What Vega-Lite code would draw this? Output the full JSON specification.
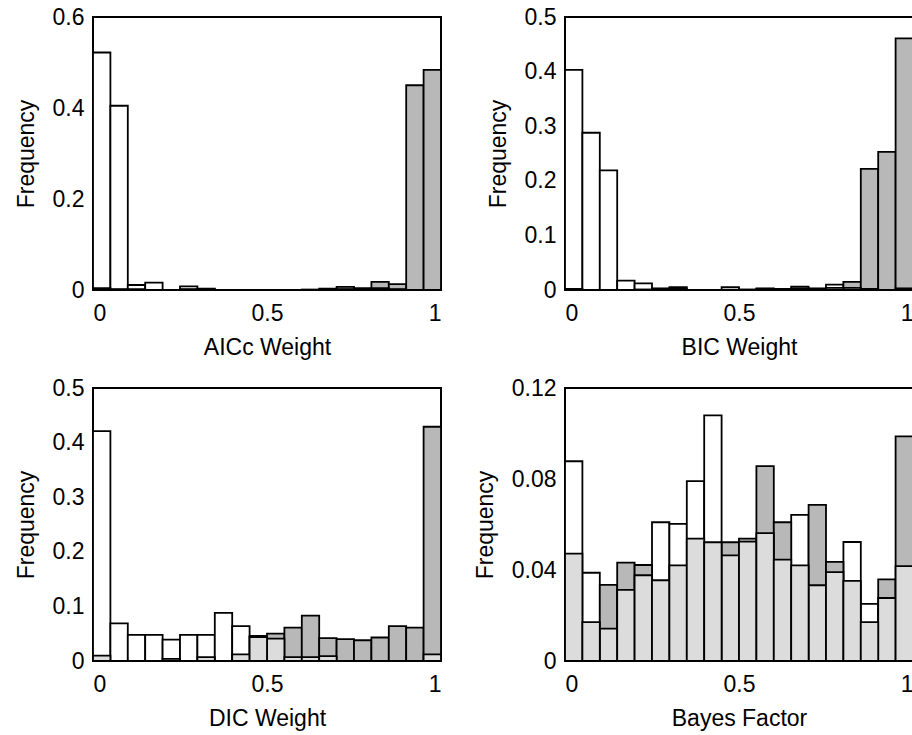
{
"$schema": "https://vega.github.io/schema/vega-lite/v6.json",
"padding": {"left": 14, "top": 5, "right": 0, "bottom": 0},
"config": {
  "font": "Liberation Sans",
  "view": {"stroke": "black", "strokeWidth": 2},
  "axis": {"grid": false, "ticks": false, "tickSize": 0, "domain": false, "labelFont": "Liberation Sans", "labelFontSize": 23, "labelColor": "black", "titleFont": "Liberation Sans", "titleFontSize": 23, "titleFontWeight": "normal", "titleColor": "black", "labelPadding": 9},
  "axisX": {"titlePadding": 11, "labelPadding": 12},
  "axisY": {"titlePadding": 14},
  "bar": {"stroke": "black", "strokeWidth": 1.8}
},
"data": {"values": [
{"p":"AICc","s":"w","lo":0,"hi":0.05,"f":0.522},{"p":"AICc","s":"w","lo":0.05,"hi":0.1,"f":0.405},{"p":"AICc","s":"w","lo":0.1,"hi":0.15,"f":0.011},{"p":"AICc","s":"w","lo":0.15,"hi":0.2,"f":0.016},{"p":"AICc","s":"w","lo":0.2,"hi":0.25,"f":0},{"p":"AICc","s":"w","lo":0.25,"hi":0.3,"f":0.008},{"p":"AICc","s":"w","lo":0.3,"hi":0.35,"f":0.003},{"p":"AICc","s":"w","lo":0.35,"hi":0.4,"f":0},{"p":"AICc","s":"w","lo":0.4,"hi":0.45,"f":0},{"p":"AICc","s":"w","lo":0.45,"hi":0.5,"f":0},{"p":"AICc","s":"w","lo":0.5,"hi":0.55,"f":0},{"p":"AICc","s":"w","lo":0.55,"hi":0.6,"f":0},{"p":"AICc","s":"w","lo":0.6,"hi":0.65,"f":0},{"p":"AICc","s":"w","lo":0.65,"hi":0.7,"f":0.001},{"p":"AICc","s":"w","lo":0.7,"hi":0.75,"f":0.002},{"p":"AICc","s":"w","lo":0.75,"hi":0.8,"f":0.001},{"p":"AICc","s":"w","lo":0.8,"hi":0.85,"f":0.004},{"p":"AICc","s":"w","lo":0.85,"hi":0.9,"f":0.002},{"p":"AICc","s":"w","lo":0.9,"hi":0.95,"f":0},{"p":"AICc","s":"w","lo":0.95,"hi":1,"f":0},
{"p":"AICc","s":"g","lo":0,"hi":0.05,"f":0.004},{"p":"AICc","s":"g","lo":0.05,"hi":0.1,"f":0.002},{"p":"AICc","s":"g","lo":0.1,"hi":0.15,"f":0.002},{"p":"AICc","s":"g","lo":0.15,"hi":0.2,"f":0},{"p":"AICc","s":"g","lo":0.2,"hi":0.25,"f":0},{"p":"AICc","s":"g","lo":0.25,"hi":0.3,"f":0.002},{"p":"AICc","s":"g","lo":0.3,"hi":0.35,"f":0.002},{"p":"AICc","s":"g","lo":0.35,"hi":0.4,"f":0},{"p":"AICc","s":"g","lo":0.4,"hi":0.45,"f":0},{"p":"AICc","s":"g","lo":0.45,"hi":0.5,"f":0},{"p":"AICc","s":"g","lo":0.5,"hi":0.55,"f":0},{"p":"AICc","s":"g","lo":0.55,"hi":0.6,"f":0},{"p":"AICc","s":"g","lo":0.6,"hi":0.65,"f":0.001},{"p":"AICc","s":"g","lo":0.65,"hi":0.7,"f":0.003},{"p":"AICc","s":"g","lo":0.7,"hi":0.75,"f":0.007},{"p":"AICc","s":"g","lo":0.75,"hi":0.8,"f":0.004},{"p":"AICc","s":"g","lo":0.8,"hi":0.85,"f":0.018},{"p":"AICc","s":"g","lo":0.85,"hi":0.9,"f":0.013},{"p":"AICc","s":"g","lo":0.9,"hi":0.95,"f":0.45},{"p":"AICc","s":"g","lo":0.95,"hi":1,"f":0.484},
{"p":"BIC","s":"w","lo":0,"hi":0.05,"f":0.403},{"p":"BIC","s":"w","lo":0.05,"hi":0.1,"f":0.288},{"p":"BIC","s":"w","lo":0.1,"hi":0.15,"f":0.219},{"p":"BIC","s":"w","lo":0.15,"hi":0.2,"f":0.017},{"p":"BIC","s":"w","lo":0.2,"hi":0.25,"f":0.012},{"p":"BIC","s":"w","lo":0.25,"hi":0.3,"f":0.002},{"p":"BIC","s":"w","lo":0.3,"hi":0.35,"f":0.003},{"p":"BIC","s":"w","lo":0.35,"hi":0.4,"f":0},{"p":"BIC","s":"w","lo":0.4,"hi":0.45,"f":0},{"p":"BIC","s":"w","lo":0.45,"hi":0.5,"f":0.005},{"p":"BIC","s":"w","lo":0.5,"hi":0.55,"f":0},{"p":"BIC","s":"w","lo":0.55,"hi":0.6,"f":0.002},{"p":"BIC","s":"w","lo":0.6,"hi":0.65,"f":0.001},{"p":"BIC","s":"w","lo":0.65,"hi":0.7,"f":0.003},{"p":"BIC","s":"w","lo":0.7,"hi":0.75,"f":0.002},{"p":"BIC","s":"w","lo":0.75,"hi":0.8,"f":0.01},{"p":"BIC","s":"w","lo":0.8,"hi":0.85,"f":0.004},{"p":"BIC","s":"w","lo":0.85,"hi":0.9,"f":0.002},{"p":"BIC","s":"w","lo":0.9,"hi":0.95,"f":0},{"p":"BIC","s":"w","lo":0.95,"hi":1,"f":0.003},
{"p":"BIC","s":"g","lo":0,"hi":0.05,"f":0.002},{"p":"BIC","s":"g","lo":0.05,"hi":0.1,"f":0},{"p":"BIC","s":"g","lo":0.1,"hi":0.15,"f":0},{"p":"BIC","s":"g","lo":0.15,"hi":0.2,"f":0},{"p":"BIC","s":"g","lo":0.2,"hi":0.25,"f":0.001},{"p":"BIC","s":"g","lo":0.25,"hi":0.3,"f":0.003},{"p":"BIC","s":"g","lo":0.3,"hi":0.35,"f":0.005},{"p":"BIC","s":"g","lo":0.35,"hi":0.4,"f":0},{"p":"BIC","s":"g","lo":0.4,"hi":0.45,"f":0},{"p":"BIC","s":"g","lo":0.45,"hi":0.5,"f":0},{"p":"BIC","s":"g","lo":0.5,"hi":0.55,"f":0.001},{"p":"BIC","s":"g","lo":0.55,"hi":0.6,"f":0.003},{"p":"BIC","s":"g","lo":0.6,"hi":0.65,"f":0.002},{"p":"BIC","s":"g","lo":0.65,"hi":0.7,"f":0.006},{"p":"BIC","s":"g","lo":0.7,"hi":0.75,"f":0.003},{"p":"BIC","s":"g","lo":0.75,"hi":0.8,"f":0.004},{"p":"BIC","s":"g","lo":0.8,"hi":0.85,"f":0.015},{"p":"BIC","s":"g","lo":0.85,"hi":0.9,"f":0.222},{"p":"BIC","s":"g","lo":0.9,"hi":0.95,"f":0.253},{"p":"BIC","s":"g","lo":0.95,"hi":1,"f":0.461},
{"p":"DIC","s":"w","lo":0,"hi":0.05,"f":0.421},{"p":"DIC","s":"w","lo":0.05,"hi":0.1,"f":0.069},{"p":"DIC","s":"w","lo":0.1,"hi":0.15,"f":0.048},{"p":"DIC","s":"w","lo":0.15,"hi":0.2,"f":0.048},{"p":"DIC","s":"w","lo":0.2,"hi":0.25,"f":0.039},{"p":"DIC","s":"w","lo":0.25,"hi":0.3,"f":0.048},{"p":"DIC","s":"w","lo":0.3,"hi":0.35,"f":0.048},{"p":"DIC","s":"w","lo":0.35,"hi":0.4,"f":0.088},{"p":"DIC","s":"w","lo":0.4,"hi":0.45,"f":0.064},{"p":"DIC","s":"w","lo":0.45,"hi":0.5,"f":0.046},{"p":"DIC","s":"w","lo":0.5,"hi":0.55,"f":0.041},{"p":"DIC","s":"w","lo":0.55,"hi":0.6,"f":0.007},{"p":"DIC","s":"w","lo":0.6,"hi":0.65,"f":0.007},{"p":"DIC","s":"w","lo":0.65,"hi":0.7,"f":0.009},{"p":"DIC","s":"w","lo":0.7,"hi":0.75,"f":0},{"p":"DIC","s":"w","lo":0.75,"hi":0.8,"f":0},{"p":"DIC","s":"w","lo":0.8,"hi":0.85,"f":0},{"p":"DIC","s":"w","lo":0.85,"hi":0.9,"f":0},{"p":"DIC","s":"w","lo":0.9,"hi":0.95,"f":0},{"p":"DIC","s":"w","lo":0.95,"hi":1,"f":0.012},
{"p":"DIC","s":"g","lo":0,"hi":0.05,"f":0.01},{"p":"DIC","s":"g","lo":0.05,"hi":0.1,"f":0},{"p":"DIC","s":"g","lo":0.1,"hi":0.15,"f":0},{"p":"DIC","s":"g","lo":0.15,"hi":0.2,"f":0},{"p":"DIC","s":"g","lo":0.2,"hi":0.25,"f":0.004},{"p":"DIC","s":"g","lo":0.25,"hi":0.3,"f":0},{"p":"DIC","s":"g","lo":0.3,"hi":0.35,"f":0.007},{"p":"DIC","s":"g","lo":0.35,"hi":0.4,"f":0},{"p":"DIC","s":"g","lo":0.4,"hi":0.45,"f":0.012},{"p":"DIC","s":"g","lo":0.45,"hi":0.5,"f":0.044},{"p":"DIC","s":"g","lo":0.5,"hi":0.55,"f":0.05},{"p":"DIC","s":"g","lo":0.55,"hi":0.6,"f":0.061},{"p":"DIC","s":"g","lo":0.6,"hi":0.65,"f":0.083},{"p":"DIC","s":"g","lo":0.65,"hi":0.7,"f":0.042},{"p":"DIC","s":"g","lo":0.7,"hi":0.75,"f":0.04},{"p":"DIC","s":"g","lo":0.75,"hi":0.8,"f":0.038},{"p":"DIC","s":"g","lo":0.8,"hi":0.85,"f":0.043},{"p":"DIC","s":"g","lo":0.85,"hi":0.9,"f":0.064},{"p":"DIC","s":"g","lo":0.9,"hi":0.95,"f":0.061},{"p":"DIC","s":"g","lo":0.95,"hi":1,"f":0.429},
{"p":"BF","s":"w","lo":0,"hi":0.05,"f":0.0878},{"p":"BF","s":"w","lo":0.05,"hi":0.1,"f":0.0388},{"p":"BF","s":"w","lo":0.1,"hi":0.15,"f":0.0142},{"p":"BF","s":"w","lo":0.15,"hi":0.2,"f":0.0313},{"p":"BF","s":"w","lo":0.2,"hi":0.25,"f":0.0377},{"p":"BF","s":"w","lo":0.25,"hi":0.3,"f":0.061},{"p":"BF","s":"w","lo":0.3,"hi":0.35,"f":0.0603},{"p":"BF","s":"w","lo":0.35,"hi":0.4,"f":0.0791},{"p":"BF","s":"w","lo":0.4,"hi":0.45,"f":0.108},{"p":"BF","s":"w","lo":0.45,"hi":0.5,"f":0.0464},{"p":"BF","s":"w","lo":0.5,"hi":0.55,"f":0.0525},{"p":"BF","s":"w","lo":0.55,"hi":0.6,"f":0.0562},{"p":"BF","s":"w","lo":0.6,"hi":0.65,"f":0.0446},{"p":"BF","s":"w","lo":0.65,"hi":0.7,"f":0.0642},{"p":"BF","s":"w","lo":0.7,"hi":0.75,"f":0.0333},{"p":"BF","s":"w","lo":0.75,"hi":0.8,"f":0.0391},{"p":"BF","s":"w","lo":0.8,"hi":0.85,"f":0.0523},{"p":"BF","s":"w","lo":0.85,"hi":0.9,"f":0.0251},{"p":"BF","s":"w","lo":0.9,"hi":0.95,"f":0.0277},{"p":"BF","s":"w","lo":0.95,"hi":1,"f":0.0417},
{"p":"BF","s":"g","lo":0,"hi":0.05,"f":0.0472},{"p":"BF","s":"g","lo":0.05,"hi":0.1,"f":0.0171},{"p":"BF","s":"g","lo":0.1,"hi":0.15,"f":0.0335},{"p":"BF","s":"g","lo":0.15,"hi":0.2,"f":0.0432},{"p":"BF","s":"g","lo":0.2,"hi":0.25,"f":0.0422},{"p":"BF","s":"g","lo":0.25,"hi":0.3,"f":0.0355},{"p":"BF","s":"g","lo":0.3,"hi":0.35,"f":0.042},{"p":"BF","s":"g","lo":0.35,"hi":0.4,"f":0.0538},{"p":"BF","s":"g","lo":0.4,"hi":0.45,"f":0.0522},{"p":"BF","s":"g","lo":0.45,"hi":0.5,"f":0.0522},{"p":"BF","s":"g","lo":0.5,"hi":0.55,"f":0.0538},{"p":"BF","s":"g","lo":0.55,"hi":0.6,"f":0.0857},{"p":"BF","s":"g","lo":0.6,"hi":0.65,"f":0.061},{"p":"BF","s":"g","lo":0.65,"hi":0.7,"f":0.042},{"p":"BF","s":"g","lo":0.7,"hi":0.75,"f":0.0686},{"p":"BF","s":"g","lo":0.75,"hi":0.8,"f":0.0436},{"p":"BF","s":"g","lo":0.8,"hi":0.85,"f":0.0352},{"p":"BF","s":"g","lo":0.85,"hi":0.9,"f":0.0171},{"p":"BF","s":"g","lo":0.9,"hi":0.95,"f":0.0359},{"p":"BF","s":"g","lo":0.95,"hi":1,"f":0.0987}
]},
"bounds": "flush",
"spacing": {"row": 98, "column": 124},
"columns": 2,
"concat": [
{
 "width": 348, "height": 273,
 "transform": [{"filter": "datum.p === 'AICc'"}, {"joinaggregate": [{"op": "max", "field": "f", "as": "mx"}], "groupby": ["lo"]}],
 "encoding": {
  "x": {"field": "lo", "type": "quantitative", "scale": {"domain": [0, 1], "nice": false}, "axis": {"values": [0, 0.5, 1], "format": ".1~f"}, "title": "AICc Weight"},
  "x2": {"field": "hi"},
  "y": {"field": "f", "type": "quantitative", "scale": {"domain": [0, 0.6], "nice": false}, "axis": {"values": [0, 0.2, 0.4, 0.6], "format": ".2~f"}, "title": "Frequency"},
  "y2": {"datum": 0}
 },
 "layer": [
  {"transform": [{"filter": "datum.f >= datum.mx"}], "mark": {"type": "bar"}, "encoding": {"fill": {"field": "s", "type": "nominal", "scale": {"domain": ["w", "g"], "range": ["#ffffff", "#b8b8b8"]}, "legend": null}}},
  {"transform": [{"filter": "datum.f < datum.mx"}], "mark": {"type": "bar", "fill": "#dcdcdc"}}
 ]
},
{
 "width": 348, "height": 273,
 "transform": [{"filter": "datum.p === 'BIC'"}, {"joinaggregate": [{"op": "max", "field": "f", "as": "mx"}], "groupby": ["lo"]}],
 "encoding": {
  "x": {"field": "lo", "type": "quantitative", "scale": {"domain": [0, 1], "nice": false}, "axis": {"values": [0, 0.5, 1], "format": ".1~f"}, "title": "BIC Weight"},
  "x2": {"field": "hi"},
  "y": {"field": "f", "type": "quantitative", "scale": {"domain": [0, 0.5], "nice": false}, "axis": {"values": [0, 0.1, 0.2, 0.3, 0.4, 0.5], "format": ".2~f"}, "title": "Frequency"},
  "y2": {"datum": 0}
 },
 "layer": [
  {"transform": [{"filter": "datum.f >= datum.mx"}], "mark": {"type": "bar"}, "encoding": {"fill": {"field": "s", "type": "nominal", "scale": {"domain": ["w", "g"], "range": ["#ffffff", "#b8b8b8"]}, "legend": null}}},
  {"transform": [{"filter": "datum.f < datum.mx"}], "mark": {"type": "bar", "fill": "#dcdcdc"}}
 ]
},
{
 "width": 348, "height": 273,
 "transform": [{"filter": "datum.p === 'DIC'"}, {"joinaggregate": [{"op": "max", "field": "f", "as": "mx"}], "groupby": ["lo"]}],
 "encoding": {
  "x": {"field": "lo", "type": "quantitative", "scale": {"domain": [0, 1], "nice": false}, "axis": {"values": [0, 0.5, 1], "format": ".1~f"}, "title": "DIC Weight"},
  "x2": {"field": "hi"},
  "y": {"field": "f", "type": "quantitative", "scale": {"domain": [0, 0.5], "nice": false}, "axis": {"values": [0, 0.1, 0.2, 0.3, 0.4, 0.5], "format": ".2~f"}, "title": "Frequency"},
  "y2": {"datum": 0}
 },
 "layer": [
  {"transform": [{"filter": "datum.f >= datum.mx"}], "mark": {"type": "bar"}, "encoding": {"fill": {"field": "s", "type": "nominal", "scale": {"domain": ["w", "g"], "range": ["#ffffff", "#b8b8b8"]}, "legend": null}}},
  {"transform": [{"filter": "datum.f < datum.mx"}], "mark": {"type": "bar", "fill": "#dcdcdc"}}
 ]
},
{
 "width": 348, "height": 273,
 "transform": [{"filter": "datum.p === 'BF'"}, {"joinaggregate": [{"op": "max", "field": "f", "as": "mx"}], "groupby": ["lo"]}],
 "encoding": {
  "x": {"field": "lo", "type": "quantitative", "scale": {"domain": [0, 1], "nice": false}, "axis": {"values": [0, 0.5, 1], "format": ".1~f"}, "title": "Bayes Factor"},
  "x2": {"field": "hi"},
  "y": {"field": "f", "type": "quantitative", "scale": {"domain": [0, 0.12], "nice": false}, "axis": {"values": [0, 0.04, 0.08, 0.12], "format": ".2~f"}, "title": "Frequency"},
  "y2": {"datum": 0}
 },
 "layer": [
  {"transform": [{"filter": "datum.f >= datum.mx"}], "mark": {"type": "bar"}, "encoding": {"fill": {"field": "s", "type": "nominal", "scale": {"domain": ["w", "g"], "range": ["#ffffff", "#b8b8b8"]}, "legend": null}}},
  {"transform": [{"filter": "datum.f < datum.mx"}], "mark": {"type": "bar", "fill": "#dcdcdc"}}
 ]
}
]
}
